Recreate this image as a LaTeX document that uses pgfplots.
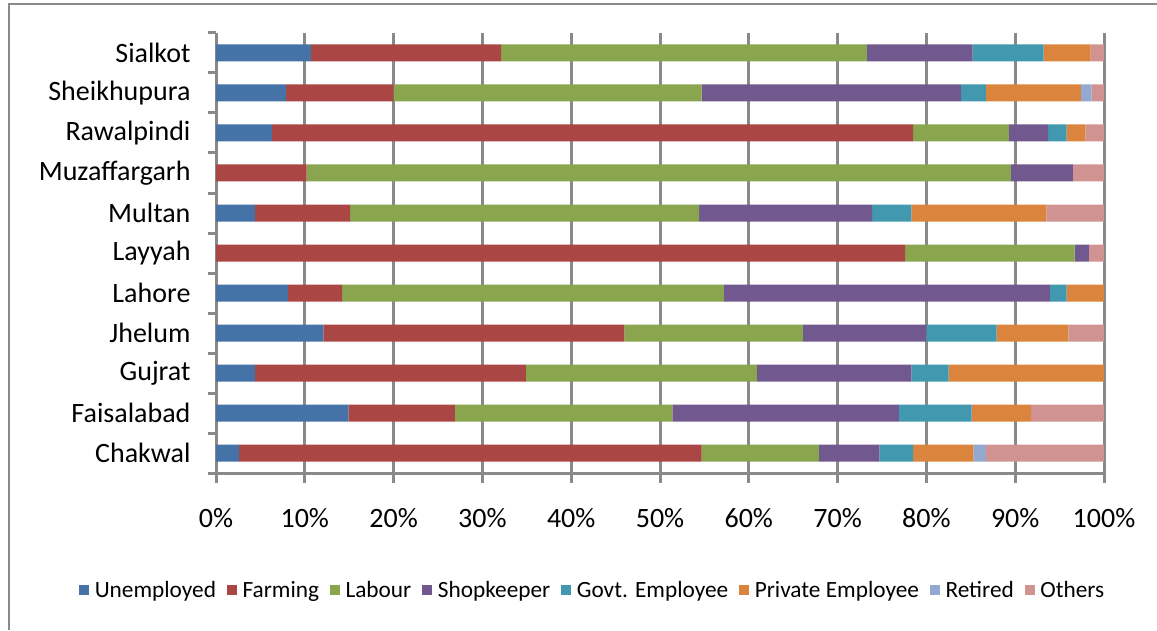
\documentclass[border=0pt]{standalone}
\usepackage{fontspec}
\setmainfont{Carlito}
\usepackage{pgfplots}
\pgfplotsset{compat=1.18}
\usepackage{pgfplotstable}

\definecolor{cU}{HTML}{4572A7}
\definecolor{cF}{HTML}{AA4643}
\definecolor{cL}{HTML}{89A54E}
\definecolor{cS}{HTML}{71588F}
\definecolor{cG}{HTML}{4198AF}
\definecolor{cP}{HTML}{DB843D}
\definecolor{cR}{HTML}{93A9CF}
\definecolor{cO}{HTML}{D19392}
\definecolor{axgray}{HTML}{898989}

\pgfplotstableread{
idx U F L S G P R O
0 2.6 52.1 13.2 6.8 3.8 6.8 1.4 13.3
1 14.9 12.0 24.5 25.5 8.2 6.7 0 8.2
2 4.4 30.5 26.0 17.4 4.2 17.5 0 0
3 12.1 33.9 20.1 13.9 7.9 8.1 0 4.0
4 8.1 6.1 43.0 36.7 1.9 4.2 0 0
5 0 77.6 19.1 1.6 0 0 0 1.7
6 4.4 10.7 39.3 19.5 4.4 15.2 0 6.5
7 0 10.2 79.3 7.0 0 0 0 3.5
8 6.3 72.2 10.8 4.4 2.1 2.1 0 2.1
9 7.9 12.1 34.7 29.2 2.8 10.7 1.2 1.4
10 10.7 21.4 41.2 11.9 8.0 5.3 0 1.5
}\data

\begin{document}
\begin{tikzpicture}
\useasboundingbox (0,0) rectangle (1157pt,630pt);
\draw[axgray, line width=2pt] (9pt,0) -- (9pt,626pt) -- (1157pt,626pt);
\begin{axis}[
  at={(216pt,157pt)}, anchor=south west,
  scale only axis, width=888pt, height=440pt,
  xbar stacked, bar width=17pt,
  xmin=0, xmax=100, ymin=-0.5, ymax=10.5,
  axis lines*=left,
  axis line style={axgray, line width=3pt},
  xtick={0,10,...,100},
  xticklabel={\pgfmathprintnumber{\tick}\%},
  /pgf/number format/assume math mode=true,
  ytick={0,...,10},
  yticklabels={Chakwal,Faisalabad,Gujrat,Jhelum,Lahore,Layyah,Multan,Muzaffargarh,Rawalpindi,Sheikhupura,Sialkot},
  minor ytick={-0.5,0.5,...,10.5},
  tick align=outside,
  major tick length=10pt,
  minor tick length=8pt,
  y tick style={draw=none},
  minor y tick style={draw=axgray, line width=3pt},
  x tick style={axgray, line width=3pt},
  xmajorgrids,
  major grid style={axgray, line width=3pt},
  ticklabel style={font=\fontsize{28}{31}\selectfont, text=black},
  yticklabel style={xshift=-12pt},
  xticklabel style={yshift=-22pt},
  legend columns=-1,
  legend style={at={(0.424,-0.266)}, anchor=center, draw=none, fill=none,
    font=\fontsize{23.3}{26}\selectfont,
    /tikz/every odd column/.append style={column sep=4pt},
    /tikz/every even column/.append style={column sep=9.5pt},
    nodes={inner sep=1.5pt}},
  legend image code/.code={\fill[#1] (0pt,-5pt) rectangle (10pt,5pt);},
]
\addplot[fill=cU, draw=none] table[x=U, y=idx]{\data};
\addplot[fill=cF, draw=none] table[x=F, y=idx]{\data};
\addplot[fill=cL, draw=none] table[x=L, y=idx]{\data};
\addplot[fill=cS, draw=none] table[x=S, y=idx]{\data};
\addplot[fill=cG, draw=none] table[x=G, y=idx]{\data};
\addplot[fill=cP, draw=none] table[x=P, y=idx]{\data};
\addplot[fill=cR, draw=none] table[x=R, y=idx]{\data};
\addplot[fill=cO, draw=none] table[x=O, y=idx]{\data};
\legend{Unemployed,Farming,Labour,Shopkeeper,Govt. Employee,Private Employee,Retired,Others}
\end{axis}
\end{tikzpicture}
\end{document}
